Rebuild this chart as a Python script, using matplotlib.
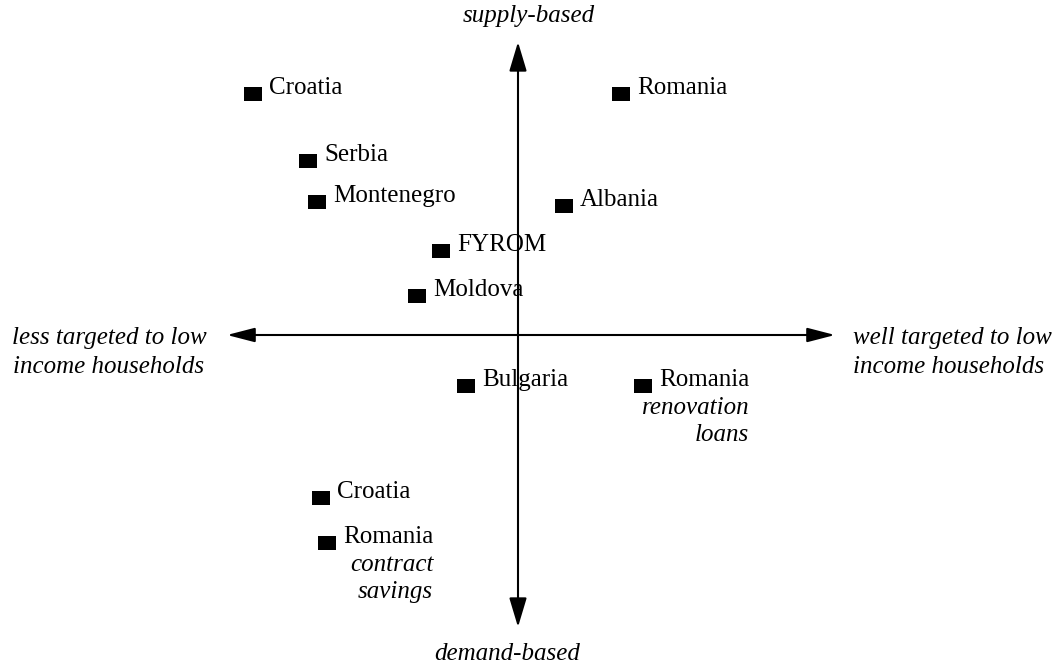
import matplotlib
matplotlib.use("Agg")
import matplotlib.pyplot as plt

plt.rcParams['font.family'] = ['Liberation Serif', 'DejaVu Serif']

# position scores: x = targeting to low income households, y = supply (+) / demand (-) based
names = ['Croatia', 'Romania', 'Serbia', 'Montenegro', 'Albania', 'FYROM',
         'Moldova', 'Bulgaria', 'Romania', 'Croatia', 'Romania']
notes = ['', '', '', '', '', '', '', '', 'renovation\nloans', '', 'contract\nsavings']
x_target = [-2.65, 1.03, -2.10, -2.01, 0.46, -0.77, -1.01, -0.52, 1.25, -1.97, -1.91]
y_supply = [2.41, 2.41, 1.74, 1.33, 1.29, 0.84, 0.39, -0.51, -0.51, -1.63, -2.08]

fig = plt.figure(figsize=(10.58, 6.66), dpi=100)
ax = fig.add_axes([0, 0, 1, 1])
ax.set_xlim(-5.18, 5.40)
ax.set_ylim(-3.31, 3.35)
ax.axis('off')

# the two axes with arrow heads
ax.annotate('', xy=(3.17, 0), xytext=(-2.91, 0),
            arrowprops=dict(arrowstyle='<|-|>,head_length=0.85,head_width=0.22',
                            mutation_scale=20, lw=1.5, color='black',
                            shrinkA=0, shrinkB=0))
ax.annotate('', xy=(0, 2.93), xytext=(0, -2.92),
            arrowprops=dict(arrowstyle='<|-|>,head_length=0.9,head_width=0.27',
                            mutation_scale=20, lw=1.5, color='black',
                            shrinkA=0, shrinkB=0))

fs = 18
ax.text(0.11, 3.13, 'supply-based', style='italic', fontsize=fs, ha='center', va='baseline')
ax.text(-0.11, -3.25, 'demand-based', style='italic', fontsize=fs, ha='center', va='baseline')
# multi-line texts: baseline alignment uses the last line
ax.text(-4.09, -0.38, 'less targeted to low\nincome households', style='italic', fontsize=fs,
        ha='center', va='baseline', multialignment='center', linespacing=1.42)
ax.text(3.35, -0.38, 'well targeted to low\nincome households', style='italic', fontsize=fs,
        ha='left', va='baseline', multialignment='left', linespacing=1.42)

ax.plot(x_target, y_supply, linestyle='none', color='black',
        marker=[(-9, -7), (9, -7), (9, 7), (-9, 7), (-9, -7)],
        markersize=13, markeredgewidth=0)

for name, note, x, y in zip(names, notes, x_target, y_supply):
    t = ax.annotate(name, (x, y), xytext=(16, 0), textcoords='offset pixels',
                    fontsize=fs, ha='left', va='baseline')
    if note:
        ax.annotate(note, xy=(1, 0), xycoords=t, xytext=(0, -50),
                    textcoords='offset pixels', fontsize=fs, style='italic',
                    ha='right', va='baseline', multialignment='right', linespacing=1.32)

fig.savefig('out.png', dpi=100)
